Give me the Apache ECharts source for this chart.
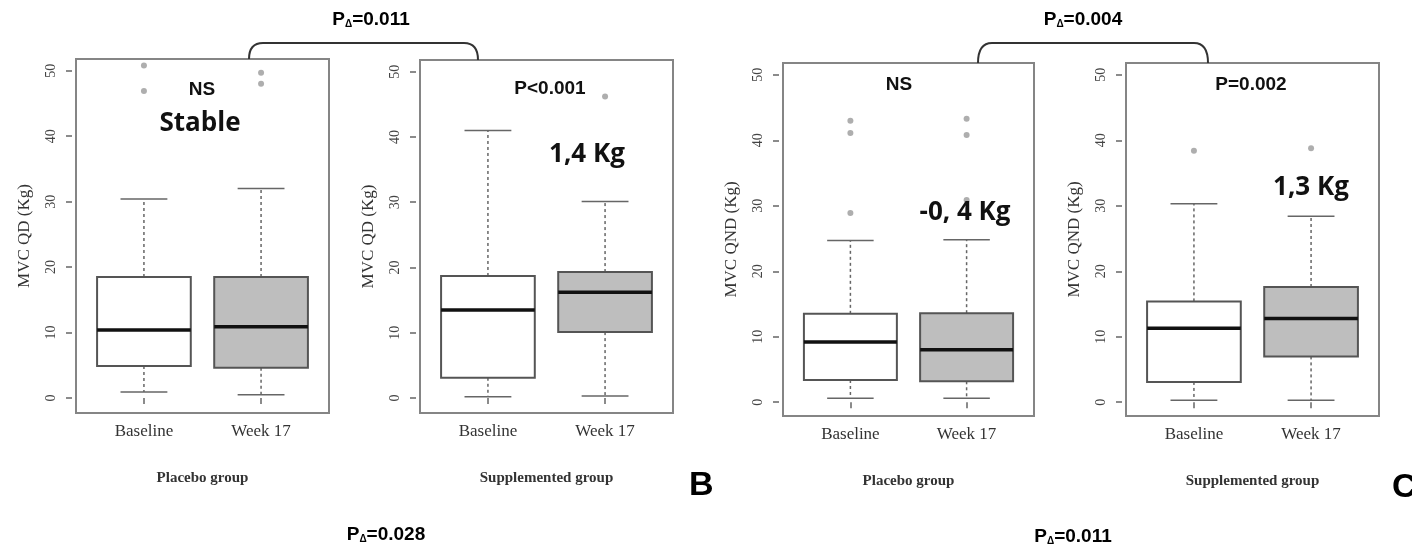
<!DOCTYPE html>
<html>
<head>
<meta charset="utf-8">
<title>MVC box plots</title>
<script src="https://cdn.jsdelivr.net/npm/echarts@6/dist/echarts.min.js"></script>
<style>
  html, body { margin: 0; padding: 0; background: #fff; }
  #main { width: 1412px; height: 547px; }
</style>
</head>
<body>
<div id="main"></div>
<script>
// categories and labels
var categories = ['Baseline', 'Week 17'];
var groupNames = ['Placebo group', 'Supplemented group', 'Placebo group', 'Supplemented group'];
var yTitles = ['MVC QD (Kg)', 'MVC QD (Kg)', 'MVC QND (Kg)', 'MVC QND (Kg)'];
var yTicks = [0, 10, 20, 30, 40, 50];

// box values per category: [lower whisker, Q1, median, Q3, upper whisker]
var qdPlaceboBox = [[0.9, 4.9, 10.4, 18.5, 30.4], [0.5, 4.6, 10.9, 18.5, 32.0]];
var qdSupplBox = [[0.2, 3.1, 13.5, 18.7, 41.0], [0.3, 10.1, 16.2, 19.3, 30.1]];
var qndPlaceboBox = [[0.6, 3.4, 9.2, 13.5, 24.7], [0.6, 3.2, 8.0, 13.6, 24.8]];
var qndSupplBox = [[0.3, 3.1, 11.3, 15.4, 30.3], [0.3, 7.0, 12.8, 17.6, 28.4]];

// outliers per category
var qdPlaceboOut = [[50.8, 46.9], [49.7, 48.0]];
var qdSupplOut = [[], [46.2]];
var qndPlaceboOut = [[43.0, 41.1, 28.9], [43.3, 40.8, 30.9]];
var qndSupplOut = [[38.4], [38.8]];

var boxes = [qdPlaceboBox, qdSupplBox, qndPlaceboBox, qndSupplBox];
var outliers = [qdPlaceboOut, qdSupplOut, qndPlaceboOut, qndSupplOut];

// layout of the four panels (pixels)
var grids = [
  { left: 76, top: 59, width: 253, height: 354 },
  { left: 420, top: 60, width: 253, height: 353 },
  { left: 783, top: 63, width: 251, height: 353 },
  { left: 1126, top: 63, width: 253, height: 353 }
];
var yMin = [-2.3, -2.3, -2.1, -2.1];
var boxFills = ['#ffffff', '#bebebe'];
var serif = '"Liberation Serif", "DejaVu Serif", serif';
var sans = '"Liberation Sans", Arial, sans-serif';

function renderBox(params, api) {
  var x = api.value(0);
  var xc = api.coord([x, 0])[0];
  var halfW = api.size([0.4, 0])[0];
  var yLo = api.coord([x, api.value(1)])[1];
  var yQ1 = api.coord([x, api.value(2)])[1];
  var yMed = api.coord([x, api.value(3)])[1];
  var yQ3 = api.coord([x, api.value(4)])[1];
  var yHi = api.coord([x, api.value(5)])[1];
  var whisker = { stroke: '#666', lineWidth: 1.5, lineDash: [3, 3] };
  var cap = { stroke: '#666', lineWidth: 1.5 };
  return {
    type: 'group',
    children: [
      { type: 'line', shape: { x1: xc, y1: yQ3, x2: xc, y2: yHi }, style: whisker },
      { type: 'line', shape: { x1: xc, y1: yQ1, x2: xc, y2: yLo }, style: whisker },
      { type: 'line', shape: { x1: xc - halfW / 2, y1: yHi, x2: xc + halfW / 2, y2: yHi }, style: cap },
      { type: 'line', shape: { x1: xc - halfW / 2, y1: yLo, x2: xc + halfW / 2, y2: yLo }, style: cap },
      { type: 'rect', shape: { x: xc - halfW, y: yQ3, width: 2 * halfW, height: yQ1 - yQ3 },
        style: { fill: boxFills[params.dataIndex], stroke: '#555', lineWidth: 2 } },
      { type: 'line', shape: { x1: xc - halfW, y1: yMed, x2: xc + halfW, y2: yMed },
        style: { stroke: '#111', lineWidth: 3.5 } }
    ]
  };
}

var gridOpts = [], xAxes = [], yAxes = [], series = [];
for (var p = 0; p < 4; p++) {
  gridOpts.push({
    left: grids[p].left, top: grids[p].top, width: grids[p].width, height: grids[p].height,
    show: true, borderColor: '#858585', borderWidth: 2, backgroundColor: '#fff'
  });
  xAxes.push({
    type: 'value', gridIndex: p, min: 0.42, max: 2.58,
    name: groupNames[p], nameLocation: 'middle', nameGap: 58,
    nameTextStyle: { fontFamily: serif, fontWeight: 'bold', fontSize: 15, color: '#333' },
    axisLine: { show: false },
    splitLine: { show: false },
    axisTick: { show: true, length: 6, customValues: [1, 2], lineStyle: { color: '#666', width: 1.5 } },
    axisLabel: {
      customValues: [1, 2], margin: 10, fontFamily: serif, fontSize: 17, color: '#333',
      formatter: function (v) { return categories[Math.round(v) - 1]; }
    }
  });
  yAxes.push({
    type: 'value', gridIndex: p, min: yMin[p], max: 51.8, offset: 4,
    name: yTitles[p], nameLocation: 'middle', nameRotate: 90, nameGap: 39,
    nameTextStyle: { fontFamily: serif, fontSize: 17, color: '#333' },
    axisLine: { show: false },
    splitLine: { show: false },
    axisTick: { show: true, length: 6, customValues: yTicks, lineStyle: { color: '#666', width: 1.5 } },
    axisLabel: { customValues: yTicks, rotate: 90, margin: 14, fontFamily: serif, fontSize: 14, color: '#444' }
  });
  series.push({
    type: 'custom', xAxisIndex: p, yAxisIndex: p,
    renderItem: renderBox,
    encode: { x: 0, y: [1, 2, 3, 4, 5] },
    data: boxes[p].map(function (b, i) { return [i + 1].concat(b); }),
    z: 2
  });
  var pts = [];
  outliers[p].forEach(function (vals, i) {
    vals.forEach(function (v) { pts.push([i + 1, v]); });
  });
  series.push({
    type: 'scatter', xAxisIndex: p, yAxisIndex: p,
    symbol: 'circle', symbolSize: 6,
    itemStyle: { color: '#9a9a9a' },
    data: pts, z: 3
  });
}

var pRich = {
  b: { fontFamily: sans, fontWeight: 'bold', fontSize: 19, color: '#111' },
  s: { fontFamily: sans, fontWeight: 'bold', fontSize: 10, color: '#111', padding: [9, 0, 0, 0] }
};
function pDelta(x, y, val) {
  return {
    type: 'text', x: x, y: y, z: 10,
    style: { text: '{b|P}{s|Δ}{b|=' + val + '}', rich: pRich, align: 'center', verticalAlign: 'middle' }
  };
}
function note(x, y, txt, big) {
  return {
    type: 'text', x: x, y: y, z: 10,
    style: {
      text: txt, align: 'center', verticalAlign: 'middle', fill: '#111',
      fontFamily: big ? '"Open Sans", sans-serif' : sans,
      fontWeight: 'bold', fontSize: big ? 26 : 19
    }
  };
}
// bracket joining two panels: rounded corners + straight top
function bracket(x1, y1, x2, y2, top) {
  var st = { stroke: '#333', lineWidth: 2, fill: null };
  return [
    { type: 'bezierCurve', z: 10, shape: { x1: x1, y1: y1, cpx1: x1, cpy1: top, x2: x1 + 14, y2: top }, style: st },
    { type: 'line', z: 10, shape: { x1: x1 + 14, y1: top, x2: x2 - 14, y2: top }, style: st },
    { type: 'bezierCurve', z: 10, shape: { x1: x2 - 14, y1: top, cpx1: x2, cpy1: top, x2: x2, y2: y2 }, style: st }
  ];
}

var graphics = [].concat(
  bracket(249, 59, 478, 60, 43),
  bracket(978, 63, 1208, 63, 43),
  [
    pDelta(371, 20, '0.011'),
    pDelta(1083, 20, '0.004'),
    pDelta(386, 535, '0.028'),
    pDelta(1073, 537, '0.011'),
    note(202, 90, 'NS'),
    note(200, 124, 'Stable', true),
    note(550, 89, 'P<0.001'),
    note(587, 155, '1,4 Kg', true),
    note(899, 85, 'NS'),
    note(965, 213, '-0, 4 Kg', true),
    note(1251, 85, 'P=0.002'),
    note(1311, 188, '1,3 Kg', true),
    { type: 'text', x: 689, y: 486, z: 10,
      style: { text: 'B', fontFamily: sans, fontWeight: 'bold', fontSize: 34, fill: '#000', verticalAlign: 'middle' } },
    { type: 'text', x: 1392, y: 488, z: 10,
      style: { text: 'C', fontFamily: sans, fontWeight: 'bold', fontSize: 34, fill: '#000', verticalAlign: 'middle' } }
  ]
);

var chart = echarts.init(document.getElementById('main'));
chart.setOption({
  backgroundColor: '#fff',
  animation: false,
  grid: gridOpts,
  xAxis: xAxes,
  yAxis: yAxes,
  series: series,
  graphic: graphics
});
</script>
</body>
</html>
